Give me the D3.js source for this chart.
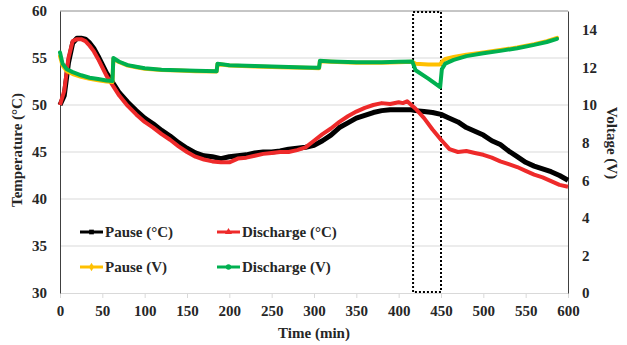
<!DOCTYPE html>
<html>
<head>
<meta charset="utf-8">
<title>Temperature and voltage</title>
<script src="https://d3js.org/d3.v7.min.js"></script>
<style>
  body { margin: 0; background: #fff; }
  text { font-family: "Liberation Serif", "Times New Roman", serif; font-weight: bold; fill: #262626; }
</style>
</head>
<body>
<svg id="chart" width="627" height="345"></svg>
<script>
// time axis (min) for temperature series
var tempTime = [0, 5, 10, 15, 20, 25, 30, 35, 40, 45, 50, 55, 60, 70, 80, 90, 100, 110, 120, 130, 140, 150, 160, 170, 180, 190, 200, 210, 220, 230, 240, 250, 260, 270, 280, 290, 300, 310, 320, 330, 340, 350, 360, 370, 380, 390, 400, 405, 410, 415, 420, 430, 440, 450, 460, 470, 480, 490, 500, 510, 520, 530, 540, 550, 560, 570, 580, 590, 600];
var pauseTemp = [50.0, 51.0, 54.5, 56.6, 57.1, 57.1, 57.0, 56.6, 56.0, 55.2, 54.3, 53.4, 52.7, 51.3, 50.3, 49.4, 48.6, 48.0, 47.3, 46.7, 46.0, 45.4, 44.9, 44.6, 44.5, 44.3, 44.5, 44.6, 44.7, 44.9, 45.0, 45.0, 45.1, 45.3, 45.4, 45.5, 45.7, 46.2, 46.8, 47.6, 48.1, 48.6, 48.9, 49.2, 49.4, 49.5, 49.5, 49.5, 49.5, 49.5, 49.4, 49.3, 49.2, 49.0, 48.6, 48.2, 47.6, 47.2, 46.8, 46.2, 45.8, 45.1, 44.5, 43.9, 43.5, 43.2, 42.9, 42.5, 42.0];
var dischargeTemp = [50.0, 51.5, 55.0, 56.8, 57.0, 57.0, 56.8, 56.3, 55.7, 54.9, 54.0, 53.1, 52.4, 51.0, 49.9, 49.0, 48.2, 47.6, 46.9, 46.3, 45.6, 45.0, 44.5, 44.2, 44.0, 43.9, 43.9, 44.3, 44.4, 44.6, 44.8, 44.9, 45.0, 45.0, 45.2, 45.5, 46.2, 46.9, 47.5, 48.2, 48.8, 49.3, 49.7, 50.0, 50.2, 50.1, 50.3, 50.2, 50.4, 50.0, 49.6, 48.6, 47.4, 46.3, 45.3, 45.0, 45.1, 44.9, 44.7, 44.4, 44.0, 43.7, 43.4, 43.0, 42.6, 42.3, 41.9, 41.5, 41.3];

// time axis (min) for voltage series
var voltTime = [0, 3, 8, 15, 25, 35, 45, 55, 62, 63, 70, 80, 90, 100, 120, 140, 160, 185, 186, 200, 230, 260, 290, 306, 307, 320, 350, 380, 400, 416, 420, 435, 449, 451, 455, 465, 480, 500, 520, 540, 560, 575, 587];
var pauseVolt = [12.6, 12.1, 11.8, 11.65, 11.5, 11.4, 11.32, 11.25, 11.22, 12.45, 12.28, 12.1, 12.01, 11.93, 11.86, 11.83, 11.8, 11.78, 12.18, 12.1, 12.05, 12.01, 11.98, 11.96, 12.33, 12.3, 12.25, 12.25, 12.28, 12.3, 12.2, 12.15, 12.15, 12.3, 12.45, 12.55, 12.68, 12.8, 12.92, 13.06, 13.24, 13.4, 13.57];
var dischargeVolt = [12.8, 12.2, 11.9, 11.75, 11.58, 11.45, 11.38, 11.3, 11.28, 12.5, 12.3, 12.12, 12.03, 11.95, 11.88, 11.85, 11.82, 11.8, 12.2, 12.12, 12.07, 12.03, 12.0, 11.98, 12.35, 12.32, 12.27, 12.27, 12.3, 12.32, 11.85, 11.4, 10.95, 11.9, 12.2, 12.4, 12.6, 12.75, 12.88, 13.02, 13.2, 13.35, 13.52];

var xTicks = d3.range(0, 601, 50);
var tempTicks = [30, 35, 40, 45, 50, 55, 60];
var voltTicks = [0, 2, 4, 6, 8, 10, 12, 14];
var boxTimes = [417, 450];

var svg = d3.select('#chart');
var mLeft = 60, mRight = 568, mTop = 11, mBottom = 293;

var x = d3.scaleLinear().domain([0, 600]).range([mLeft, mRight]);
var yT = d3.scaleLinear().domain([30, 60]).range([mBottom, mTop]);
var yV = d3.scaleLinear().domain([0, 15]).range([mBottom, mTop]);

// gridlines
svg.append('g').selectAll('line').data(tempTicks.slice(1, -1)).join('line')
    .attr('x1', mLeft).attr('x2', mRight)
    .attr('y1', d => yT(d)).attr('y2', d => yT(d))
    .attr('stroke', '#d9d9d9').attr('stroke-width', 1);

// top border
svg.append('line').attr('x1', mLeft).attr('x2', mRight).attr('y1', mTop).attr('y2', mTop)
    .attr('stroke', '#8c8c8c').attr('stroke-width', 1);

var xAxis = svg.append('g').attr('transform', 'translate(0,' + mBottom + ')')
    .call(d3.axisBottom(x).tickValues(xTicks).tickSize(5).tickPadding(7));
xAxis.select('.domain').attr('stroke', '#d9d9d9');
xAxis.selectAll('.tick line').attr('stroke', '#d9d9d9');
xAxis.selectAll('text').attr('font-size', 15).style('fill', '#262626');

var yAxisL = svg.append('g').attr('transform', 'translate(' + mLeft + ',0)')
    .call(d3.axisLeft(yT).tickValues(tempTicks).tickSize(0).tickPadding(13));
yAxisL.select('.domain').attr('stroke', '#404040');
yAxisL.selectAll('text').attr('font-size', 15).style('fill', '#262626');

var yAxisR = svg.append('g').attr('transform', 'translate(' + mRight + ',0)')
    .call(d3.axisRight(yV).tickValues(voltTicks).tickSize(0).tickPadding(14));
yAxisR.select('.domain').attr('stroke', '#404040');
yAxisR.selectAll('text').attr('font-size', 15).style('fill', '#262626');

// dotted rectangle
svg.append('rect')
    .attr('x', x(boxTimes[0])).attr('y', mTop + 1)
    .attr('width', x(boxTimes[1]) - x(boxTimes[0])).attr('height', mBottom - mTop - 2)
    .attr('fill', 'none').attr('stroke', '#000').attr('stroke-width', 2)
    .attr('stroke-dasharray', '2,2');

// lines
var tempLine = function (vals) {
    return d3.line().x((d, i) => x(tempTime[i])).y(d => yT(d))(vals);
};
var voltLine = function (vals) {
    return d3.line().x((d, i) => x(voltTime[i])).y(d => yV(d))(vals);
};

svg.append('path').attr('d', tempLine(pauseTemp))
    .attr('fill', 'none').attr('stroke', '#000').attr('stroke-width', 5).attr('stroke-linejoin', 'round');
svg.append('path').attr('d', tempLine(dischargeTemp))
    .attr('fill', 'none').attr('stroke', '#ee2a2a').attr('stroke-width', 4).attr('stroke-linejoin', 'round');
svg.append('path').attr('d', voltLine(pauseVolt))
    .attr('fill', 'none').attr('stroke', '#ffc000').attr('stroke-width', 4).attr('stroke-linejoin', 'round').attr('stroke-linecap', 'round');
svg.append('path').attr('d', voltLine(dischargeVolt))
    .attr('fill', 'none').attr('stroke', '#00b050').attr('stroke-width', 4).attr('stroke-linejoin', 'round').attr('stroke-linecap', 'round');

// axis titles
svg.append('text').attr('transform', 'translate(' + (mLeft + mRight) / 2 + ',338)')
    .attr('text-anchor', 'middle').attr('font-size', 15).text('Time (min)');
svg.append('text').attr('transform', 'translate(22,150) rotate(-90)')
    .attr('text-anchor', 'middle').attr('font-size', 15).text('Temperature (°C)');
svg.append('text').attr('transform', 'translate(607,143) rotate(90)')
    .attr('text-anchor', 'middle').attr('font-size', 15).text('Voltage (V)');

// legend
var legend = [
    {name: 'Pause (°C)', color: '#000', mark: 'square', lx: 80, ly: 232},
    {name: 'Discharge (°C)', color: '#ee2a2a', mark: 'triangle', lx: 217, ly: 232},
    {name: 'Pause (V)', color: '#ffc000', mark: 'cross', lx: 80, ly: 267},
    {name: 'Discharge (V)', color: '#00b050', mark: 'circle', lx: 217, ly: 267}
];
var symbols = {square: d3.symbolSquare, triangle: d3.symbolTriangle, cross: d3.symbolDiamond, circle: d3.symbolCircle};
var lg = svg.append('g').selectAll('g').data(legend).join('g')
    .attr('transform', d => 'translate(' + d.lx + ',' + d.ly + ')');
lg.append('line').attr('x1', 0).attr('x2', 23).attr('y1', 0).attr('y2', 0)
    .attr('stroke', d => d.color).attr('stroke-width', 3);
lg.append('path').attr('transform', 'translate(11.5,0)')
    .attr('d', d => d3.symbol().type(symbols[d.mark]).size(22)())
    .attr('fill', d => d.color);
lg.append('text').attr('x', 25).attr('y', 5).attr('font-size', 15).text(d => d.name);
</script>
</body>
</html>
